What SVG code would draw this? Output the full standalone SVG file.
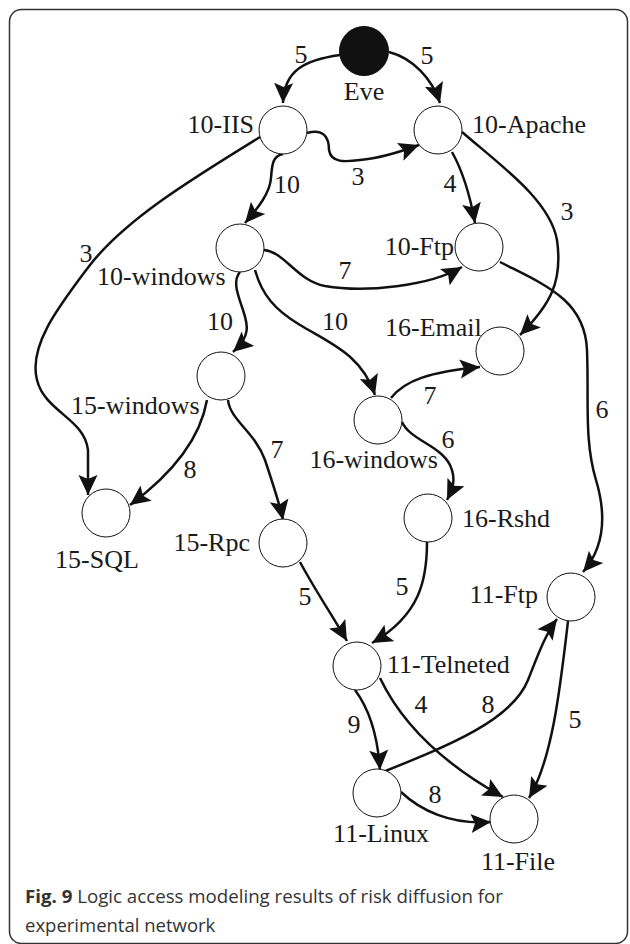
<svg xmlns="http://www.w3.org/2000/svg" width="630" height="944" viewBox="0 0 630 944">
<style>
.frame{fill:none;stroke:#333;stroke-width:1.5}
.node{fill:#fff;stroke:#111;stroke-width:1}
.src{fill:#111;stroke:#111;stroke-width:1}
.lbl{font-family:"Liberation Serif","Times New Roman",serif;font-size:26px;fill:#1a1a1a}
.ew{font-family:"Liberation Serif","Times New Roman",serif;font-size:26px;fill:#1a1a1a;text-anchor:middle}
.edge{fill:none;stroke:#111;stroke-width:2.5;marker-end:url(#ah)}
.cap{font-family:"Open Sans","Noto Sans",sans-serif;font-size:18.5px;fill:#333}
</style>
<defs>
<marker id="ah" viewBox="0 0 20 20" refX="20" refY="10" markerWidth="20" markerHeight="20" markerUnits="userSpaceOnUse" orient="auto">
<path d="M0,0.5 L20,10 L0,19.5 L4,10 z" fill="#111"/>
</marker>
</defs>
<rect class="frame" x="9.5" y="9.5" width="618" height="934" rx="12"/>

<g id="connectors">
<path class="edge" d="M340,55 C305,60 284,70 283,103"/>
<path class="edge" d="M389,52 C412,58 432,78 440,103"/>
<path class="edge" d="M307,133 C324,128 329,138 329,150 C331,163 345,162 360,160 C382,158 400,152 419,145"/>
<path class="edge" d="M283,154 C272,156 272,166 271,178 C270,193 258,208 245,223"/>
<path class="edge" d="M260,137 C190,180 125,220 90,265 C60,305 28,345 37,380 C45,412 84,418 88,450 L88,495"/>
<path class="edge" d="M452,152 C462,170 470,195 475,223"/>
<path class="edge" d="M462,132 C500,165 550,200 557,240 C563,282 550,305 520,335"/>
<path class="edge" d="M264,250 C285,252 296,280 325,286 C365,293 430,286 462,267"/>
<path class="edge" d="M500,262 C545,285 585,300 587,350 C589,400 584,440 596,480 C608,520 602,550 583,572"/>
<path class="edge" d="M240,272 C232,281 238,295 243,310 C248,325 251,336 233,352"/>
<path class="edge" d="M255,270 C262,295 275,310 300,325 C330,343 362,355 375,395"/>
<path class="edge" d="M391,398 C405,380 430,372 480,367"/>
<path class="edge" d="M402,422 C410,440 440,445 450,465 C457,480 452,490 447,500"/>
<path class="edge" d="M207,400 C200,440 172,474 130,505"/>
<path class="edge" d="M228,400 C230,420 255,432 265,460 C275,490 280,505 283,520"/>
<path class="edge" d="M300,562 C315,590 332,615 347,641"/>
<path class="edge" d="M427,542 C427,580 420,615 372,643"/>
<path class="edge" d="M355,690 C370,710 378,740 380,770"/>
<path class="edge" d="M380,678 C400,720 440,762 503,797"/>
<path class="edge" d="M383,772 C450,745 512,720 528,680 C538,655 545,635 557,619"/>
<path class="edge" d="M568,621 C560,690 552,760 529,798"/>
<path class="edge" d="M401,792 C420,810 450,825 491,822"/>
</g>

<g id="edge-labels">
<text class="ew" x="301" y="63">5</text>
<text class="ew" x="427" y="64">5</text>
<text class="ew" x="287" y="193">10</text>
<text class="ew" x="358" y="185">3</text>
<text class="ew" x="450" y="192">4</text>
<text class="ew" x="567" y="220">3</text>
<text class="ew" x="86" y="262">3</text>
<text class="ew" x="345" y="279">7</text>
<text class="ew" x="220" y="330">10</text>
<text class="ew" x="335" y="330">10</text>
<text class="ew" x="277" y="458">7</text>
<text class="ew" x="190" y="478">8</text>
<text class="ew" x="430" y="404">7</text>
<text class="ew" x="448" y="448">6</text>
<text class="ew" x="602" y="418">6</text>
<text class="ew" x="305" y="605">5</text>
<text class="ew" x="402" y="595">5</text>
<text class="ew" x="354" y="733">9</text>
<text class="ew" x="421" y="713">4</text>
<text class="ew" x="488" y="713">8</text>
<text class="ew" x="575" y="728">5</text>
<text class="ew" x="435" y="803">8</text>
</g>

<g id="n-eve"><ellipse class="src" cx="364" cy="51" rx="24.5" ry="24.5"/><text class="lbl" x="364" y="100" text-anchor="middle">Eve</text></g>
<g id="n-10-iis"><circle class="node" cx="283" cy="130" r="24"/><text class="lbl" x="254" y="133" text-anchor="end">10-IIS</text></g>
<g id="n-10-apache"><circle class="node" cx="438" cy="130" r="24"/><text class="lbl" x="472" y="133">10-Apache</text></g>
<g id="n-10-windows"><circle class="node" cx="240" cy="248" r="24"/><text class="lbl" x="97" y="285">10-windows</text></g>
<g id="n-10-ftp"><circle class="node" cx="479" cy="247" r="24"/><text class="lbl" x="454" y="255" text-anchor="end">10-Ftp</text></g>
<g id="n-16-email"><circle class="node" cx="500" cy="351" r="24"/><text class="lbl" x="385" y="336">16-Email</text></g>
<g id="n-15-windows"><circle class="node" cx="221" cy="376" r="24"/><text class="lbl" x="71" y="414">15-windows</text></g>
<g id="n-16-windows"><circle class="node" cx="378" cy="420" r="24"/><text class="lbl" x="438" y="468" text-anchor="end">16-windows</text></g>
<g id="n-15-sql"><circle class="node" cx="106" cy="513" r="24"/><text class="lbl" x="97" y="568" text-anchor="middle">15-SQL</text></g>
<g id="n-16-rshd"><circle class="node" cx="428" cy="518" r="24"/><text class="lbl" x="462" y="527">16-Rshd</text></g>
<g id="n-15-rpc"><circle class="node" cx="283" cy="543" r="24"/><text class="lbl" x="250" y="551" text-anchor="end">15-Rpc</text></g>
<g id="n-11-ftp"><circle class="node" cx="571" cy="597" r="24"/><text class="lbl" x="538" y="603" text-anchor="end">11-Ftp</text></g>
<g id="n-11-telneted"><circle class="node" cx="357" cy="666" r="24"/><text class="lbl" x="387" y="673">11-Telneted</text></g>
<g id="n-11-linux"><circle class="node" cx="377" cy="793" r="24"/><text class="lbl" x="381" y="842" text-anchor="middle">11-Linux</text></g>
<g id="n-11-file"><circle class="node" cx="514" cy="819" r="24"/><text class="lbl" x="518" y="870" text-anchor="middle">11-File</text></g>

<g id="caption">
<text class="cap" x="25" y="903" textLength="478" lengthAdjust="spacingAndGlyphs"><tspan font-weight="bold">Fig. 9</tspan> Logic access modeling results of risk diffusion for</text>
<text class="cap" x="25" y="932">experimental network</text>
</g>
</svg>
